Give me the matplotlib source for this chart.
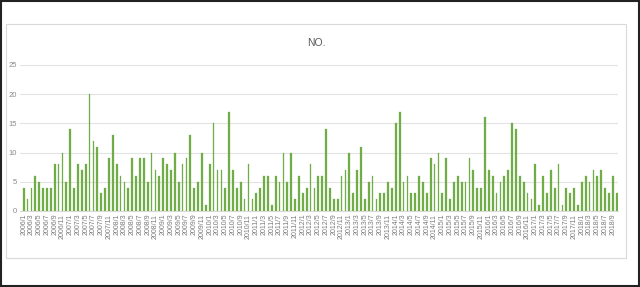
import matplotlib
matplotlib.use("Agg")
import matplotlib.pyplot as plt
from matplotlib.patches import Rectangle

# monthly counts, 2006/1 .. 2018/10
start_year = 2006
values = [4, 2, 4, 6, 5, 4, 4, 4, 8, 8, 10, 5,
          14, 4, 8, 7, 8, 20, 12, 11, 3, 4, 9, 13,
          8, 6, 5, 4, 9, 6, 9, 9, 5, 10, 7, 6,
          9, 8, 7, 10, 5, 8, 9, 13, 4, 5, 10, 1,
          8, 15, 7, 7, 4, 17, 7, 4, 5, 2, 8, 2,
          3, 4, 6, 6, 1, 6, 5, 10, 5, 10, 2, 6,
          3, 4, 8, 4, 6, 6, 14, 4, 2, 2, 6, 7,
          10, 3, 7, 11, 2, 5, 6, 2, 3, 3, 5, 4,
          15, 17, 5, 6, 3, 3, 6, 5, 3, 9, 8, 10,
          3, 9, 2, 5, 6, 5, 5, 9, 7, 4, 4, 16,
          7, 6, 3, 5, 6, 7, 15, 14, 6, 5, 3, 2,
          8, 1, 6, 3, 7, 4, 8, 1, 4, 3, 4, 1,
          5, 6, 5, 7, 6, 7, 4, 3, 6, 3]
months = [f"{start_year + i // 12}/{i % 12 + 1}" for i in range(len(values))]
yticks = [0, 5, 10, 15, 20, 25]

plt.rcParams['font.family'] = ['Liberation Sans', 'DejaVu Sans']
fig = plt.figure(figsize=(6.4, 2.87), dpi=100)
ax = fig.add_axes([0.031, 0.265, 0.935, 0.509])

x = list(range(len(values)))
ax.bar(x, values, width=0.45, color="#70AD47", edgecolor="#70AD47", lw=0.2, zorder=3)

ax.set_xlim(-1.0, len(values) - 0.6)
ax.set_ylim(0, 25)
ax.set_yticks(yticks)
ax.set_xticks(x[::2])
ax.set_xticklabels(months[::2], rotation=90, fontsize=5, color="#7a7a7a")
ax.tick_params(axis="y", labelsize=5.5, labelcolor="#8a8a8a", length=0, pad=2)
ax.tick_params(axis="x", length=0, pad=2)
ax.grid(axis="y", color="#e3e3e3", lw=0.8, zorder=0)
for s in ["top", "right", "left"]:
    ax.spines[s].set_visible(False)
ax.spines["bottom"].set_color("#d9d9d9")

fig.text(0.494, 0.85, "NO.", ha="center", va="center", fontsize=7.5, color="#595959")

# chart area border and outer frame
fig.patches.append(Rectangle((6 / 640, 1 - 258 / 287), 620 / 640, 234 / 287,
                             transform=fig.transFigure, fill=False,
                             edgecolor="#d9d9d9", lw=0.8))
fig.patches.append(Rectangle((0.002, 0.004), 0.996, 0.992,
                             transform=fig.transFigure, fill=False,
                             edgecolor="#222222", lw=1.5))

fig.savefig("out.png", dpi=100)
